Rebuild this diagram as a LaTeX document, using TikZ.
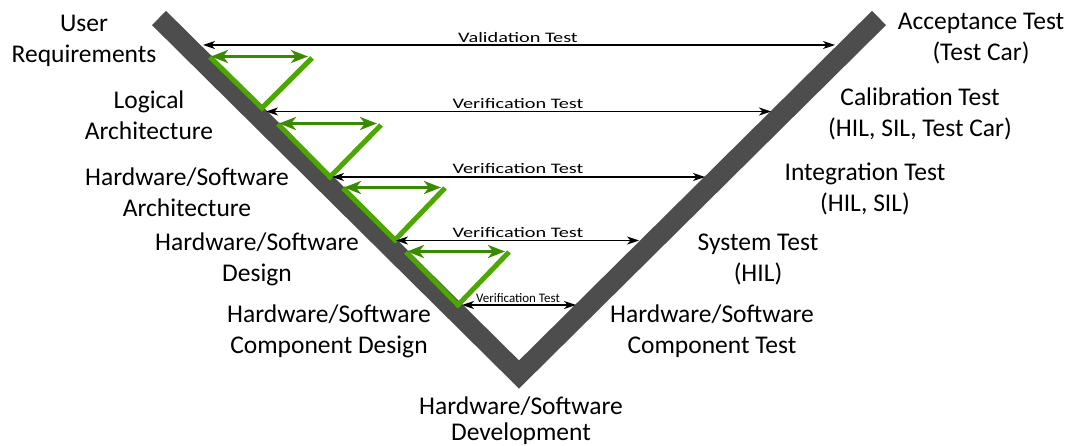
\documentclass[tikz,border=0pt]{standalone}
\usepackage{fontspec}
\setmainfont{Carlito}
\usetikzlibrary{arrows.meta}

\definecolor{vgray}{HTML}{4D4D4D}
\definecolor{vgreen}{HTML}{4CA800}
\definecolor{vdarkgreen}{HTML}{3A8A00}

\tikzset{
  stage/.style={align=center, inner sep=0pt, font=\fontsize{25.5}{31}\selectfont},
  vband/.style={draw=vgray, line width=20pt, line join=miter, line cap=butt},
  testtip/.tip={Stealth[length=12pt,width=8pt,inset=3.5pt]},
  testarrow/.style={draw=black, line width=1.3pt, testtip-testtip},
  testlabel/.style={anchor=base, inner sep=0pt, font=\fontsize{14.5}{17}\selectfont},
  looptip/.tip={Stealth[length=17pt,width=13pt,inset=5pt]},
  loopline/.style={draw=vgreen, line width=5pt, line join=miter},
  looparrow/.style={draw=vdarkgreen, line width=3pt, looptip-looptip},
}

\begin{document}
\begin{tikzpicture}[x=1pt,y=-1pt]
  \useasboundingbox (0,0) rectangle (1065,446);

  % the V band
  \coordinate (vtopL) at (159,18);
  \coordinate (vbottom) at (519,374.5);
  \coordinate (vtopR) at (879,18);
  \draw[vband] (vtopL) -- (vbottom) -- (vtopR);

  % feedback loops on the left arm
  \foreach \i/\lx/\ly/\bx/\by/\rx/\ry in {
      1/210/57/262/108/312/58,
      2/278/124/330/177/381/125,
      3/343/188/395/240/445/188,
      4/406/252/458/305/509/252} {
    \coordinate (L\i) at (\lx,\ly);
    \coordinate (B\i) at (\bx,\by);
    \coordinate (R\i) at (\rx,\ry);
    \draw[loopline] (L\i) -- (B\i) -- (R\i);
    \coordinate (aL\i) at (\lx+1,\ly-0.5);
    \coordinate (aR\i) at (\rx-4,\ly-0.5);
    \draw[looparrow] (aL\i) -- (aR\i);
  }

  % test arrows between the arms
  \coordinate (t1L) at (203,45);    \coordinate (t1R) at (835,45);
  \coordinate (t2L) at (266,111.5); \coordinate (t2R) at (771,111.5);
  \coordinate (t3L) at (332,177);   \coordinate (t3R) at (705,177);
  \coordinate (t4L) at (396,240.5); \coordinate (t4R) at (639,240.5);
  \coordinate (t5L) at (462,305);   \coordinate (t5R) at (576,305);
  \draw[testarrow] (t1L) -- (t1R);
  \draw[testarrow] (t2L) -- (t2R);
  \draw[testarrow] (t3L) -- (t3R);
  \draw[testarrow] (t4L) -- (t4R);
  \draw[testarrow] (t5L) -- (t5R);

  \node[testlabel] (lab1) at (518,43) {\scalebox{1.4}[1]{Validation Test}};
  \node[testlabel] (lab2) at (518,108.5) {\scalebox{1.4}[1]{Verification Test}};
  \node[testlabel] (lab3) at (518,174) {\scalebox{1.4}[1]{Verification Test}};
  \node[testlabel] (lab4) at (518,237.5) {\scalebox{1.4}[1]{Verification Test}};
  \node[testlabel, font=\fontsize{13}{15}\selectfont] (lab5) at (518,302) {Verification Test};

  % development stages (left arm)
  \node[stage] (userreq) at (84,41) {User\\Requirements};
  \node[stage] (logarch) at (149,115) {Logical\\Architecture};
  \node[stage] (hwswarch) at (187,192) {Hardware/Software\\Architecture};
  \node[stage] (hwswdesign) at (257,259) {Hardware/Software\\Design};
  \node[stage] (compdesign) at (329,331) {Hardware/Software\\Component Design};
  \node[stage, font=\fontsize{25.5}{26}\selectfont] (devel) at (521,421) {Hardware/Software\\Development};

  % test stages (right arm)
  \node[stage] (acceptance) at (981,39) {Acceptance Test\\(Test Car)};
  \node[stage] (calibration) at (920,114) {Calibration Test\\(HIL, SIL, Test Car)};
  \node[stage] (integration) at (865,189) {Integration Test\\(HIL, SIL)};
  \node[stage] (system) at (758,259) {System Test\\(HIL)};
  \node[stage] (comptest) at (712,331) {Hardware/Software\\Component Test};
\end{tikzpicture}
\end{document}
